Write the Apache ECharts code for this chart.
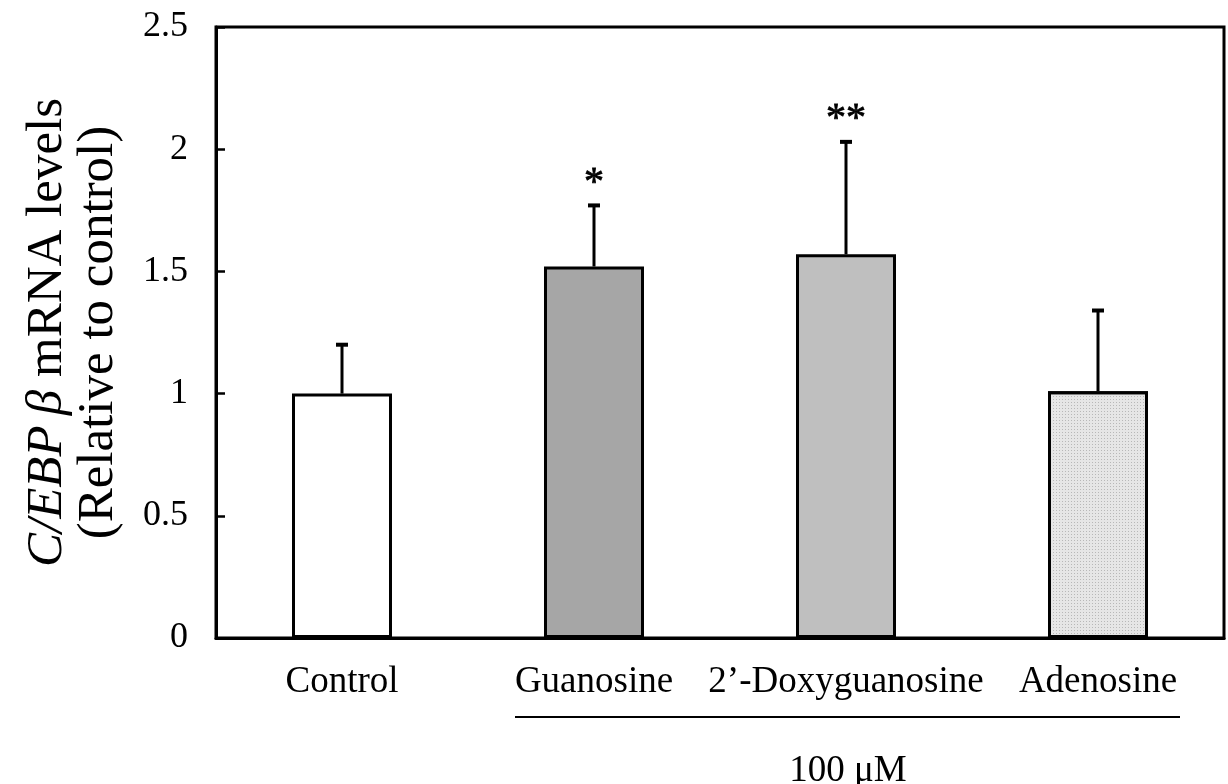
<!DOCTYPE html>
<html>
<head>
<meta charset="utf-8">
<script src="https://cdn.jsdelivr.net/npm/echarts@6/dist/echarts.min.js"></script>
<style>
html,body{margin:0;padding:0;background:#fff;}
#chart{width:1228px;height:784px;}
</style>
</head>
<body>
<div id="chart"></div>
<script>
const categories = ['Control', 'Guanosine', '2\u2019-Doxyguanosine', 'Adenosine'];
const means = [1.0, 1.52, 1.57, 1.01];
const errors = [0.20, 0.25, 0.46, 0.33];
const significance = ['', '*', '**', ''];
const yTicks = [0, 0.5, 1, 1.5, 2, 2.5];

const FONT = '"Liberation Serif", "Times New Roman", serif';
const fills = ['#ffffff', '#a6a6a6', '#bfbfbf', '#e6e6e6'];

const barData = means.map((v, i) => {
  const item = { value: v, itemStyle: { color: fills[i] } };
  if (i === 3) {
    item.itemStyle.decal = {
      symbol: 'rect', symbolSize: 1, color: '#b8b8b8',
      dashArrayX: [1, 2], dashArrayY: [1, 2], rotation: 0
    };
  }
  return item;
});
const errData = means.map((v, i) => [i, v, v + errors[i], significance[i]]);

const chart = echarts.init(document.getElementById('chart'), null, { renderer: 'canvas' });
chart.setOption({
  animation: false,
  backgroundColor: '#fff',
  grid: { left: 216, right: 4, top: 27, bottom: 146, show: true, borderColor: '#000', borderWidth: 3, backgroundColor: 'transparent' },
  xAxis: {
    type: 'category',
    data: categories,
    axisLine: { lineStyle: { color: '#000', width: 3 } },
    axisTick: { show: false },
    axisLabel: { color: '#000', fontFamily: FONT, fontSize: 37, margin: 26, interval: 0 }
  },
  yAxis: {
    type: 'value',
    min: 0, max: 2.5, interval: 0.5,
    axisLine: { show: true, lineStyle: { color: '#000', width: 3 } },
    axisTick: { show: true, inside: true, length: 9, lineStyle: { color: '#000', width: 2.5 } },
    splitLine: { show: false },
    axisLabel: { color: '#000', fontFamily: FONT, fontSize: 36, margin: 28,
      formatter: v => String(v) },
    name: '{i|C/EBP}{i|\u2009\u03B2} mRNA levels\n(Relative to control)',
    nameLocation: 'middle',
    nameRotate: 90,
    nameGap: 92,
    nameTextStyle: { color: '#000', fontFamily: FONT, fontSize: 51, lineHeight: 51,
      rich: { i: { fontStyle: 'italic', fontFamily: FONT, fontSize: 51, color: '#000', lineHeight: 51 } } }
  },
  series: [
    {
      type: 'bar',
      data: barData,
      barWidth: 100,
      itemStyle: { borderColor: '#000', borderWidth: 3 },
      z: 2
    },
    {
      type: 'custom',
      data: errData,
      z: 3,
      renderItem: function (params, api) {
        const base = api.coord([api.value(0), api.value(1)]);
        const top = api.coord([api.value(0), api.value(2)]);
        const cap = 6;
        const children = [
          { type: 'line', shape: { x1: base[0], y1: base[1], x2: top[0], y2: top[1] }, style: { stroke: '#000', lineWidth: 3 } },
          { type: 'line', shape: { x1: top[0] - cap, y1: top[1], x2: top[0] + cap, y2: top[1] }, style: { stroke: '#000', lineWidth: 4 } }
        ];
        const sig = errData[params.dataIndex][3];
        if (sig) {
          children.push({ type: 'text', style: { text: sig, x: top[0], y: top[1] - 22, align: 'center', verticalAlign: 'middle', font: '40px ' + FONT, fill: '#000', stroke: '#000', lineWidth: 0.8 } });
        }
        return { type: 'group', children: children };
      }
    }
  ],
  graphic: [
    { type: 'line', shape: { x1: 515, y1: 717, x2: 1180, y2: 717 }, style: { stroke: '#000', lineWidth: 2 } },
    { type: 'text', x: 848, y: 771, style: { text: '100 \u03BCM', align: 'center', verticalAlign: 'middle', font: '37px ' + FONT, fill: '#000' } }
  ]
});
</script>
</body>
</html>
